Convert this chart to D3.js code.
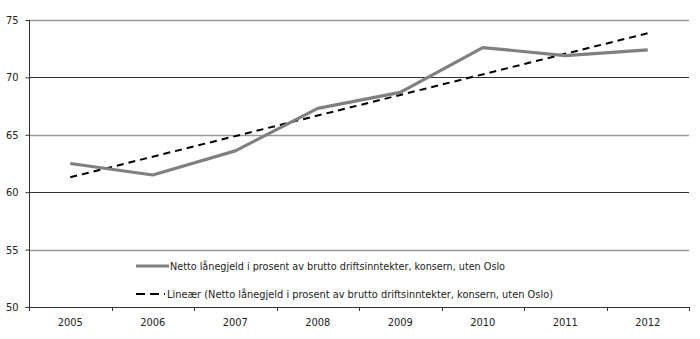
<!DOCTYPE html>
<html><head><meta charset="utf-8">
<script src="https://cdn.jsdelivr.net/npm/d3@7"></script>
<style>
body{margin:0;background:#fff;}
text{font-family:"Liberation Sans Narrow","DejaVu Sans Condensed","Liberation Sans",Arial,sans-serif;fill:#222;}
</style></head>
<body><svg id="c" width="700" height="339"></svg>
<script>
const years = ["2005","2006","2007","2008","2009","2010","2011","2012"];
const values = [62.5, 61.5, 63.6, 67.3, 68.7, 72.6, 71.9, 72.4];
const trendEnds = [61.3, 73.85];
const yTicks = [50, 55, 60, 65, 70, 75];
const seriesName = "Netto lånegjeld i prosent av brutto driftsinntekter, konsern, uten Oslo";
const trendName = "Lineær (Netto lånegjeld i prosent av brutto driftsinntekter, konsern, uten Oslo)";

const svg = d3.select("#c");
const L = 29, R = 689, T = 20, B = 307;
const x = d3.scaleBand().domain(years).range([L, R]);
const y = d3.scaleLinear().domain([50, 75]).range([B, T]);
const FONT = '"Liberation Sans Narrow","DejaVu Sans Condensed","Liberation Sans",Arial,sans-serif';

// gridlines
svg.append("g").selectAll("line").data(yTicks.filter(d => d > 50)).join("line")
  .attr("x1", L).attr("x2", R)
  .attr("y1", d => Math.round(y(d)) + 0.5).attr("y2", d => Math.round(y(d)) + 0.5)
  .attr("stroke", d => (d % 10 === 0) ? "#333" : "#999")
  .attr("stroke-width", d => (d % 10 === 0) ? 1 : 1.6);

// y axis
const ya = svg.append("g").attr("transform", `translate(${L + 0.5},0)`)
  .call(d3.axisLeft(y).tickValues(yTicks).tickSize(4).tickPadding(7));
ya.select(".domain").attr("stroke", "#333").attr("d", `M-4,${B + 0.5}H0V${T}`);
ya.selectAll(".tick line").attr("stroke", "#333");
ya.selectAll(".tick text").attr("font-size", 11).attr("fill", "#222").style("font-family", FONT);

// x axis
const xa = svg.append("g").attr("transform", `translate(0,${B + 0.5})`)
  .call(d3.axisBottom(x).tickSize(0).tickPadding(11));
xa.select(".domain").attr("stroke", "#333").attr("d", `M${L},0H${R}`);
xa.selectAll(".tick text").attr("font-size", 11).attr("fill", "#222").style("font-family", FONT);
const bounds = years.map(d => x(d)).concat([R]);
svg.append("g").selectAll("line").data(bounds).join("line")
  .attr("x1", d => Math.round(d) + 0.5).attr("x2", d => Math.round(d) + 0.5)
  .attr("y1", B).attr("y2", B + 4).attr("stroke", "#333");

const cx = d => x(d) + x.bandwidth() / 2;

// trend line
svg.append("line")
  .attr("x1", cx(years[0])).attr("y1", y(trendEnds[0]))
  .attr("x2", cx(years[years.length - 1])).attr("y2", y(trendEnds[1]))
  .attr("stroke", "#000").attr("stroke-width", 2).attr("stroke-dasharray", "7,5");

// data line
svg.append("path").datum(values)
  .attr("fill", "none").attr("stroke", "#808080").attr("stroke-width", 3.2)
  .attr("stroke-linejoin", "round")
  .attr("d", d3.line().x((d, i) => cx(years[i])).y(d => y(d)));

// legend
const lg = svg.append("g");
lg.append("line").attr("x1", 136).attr("x2", 169).attr("y1", 266).attr("y2", 266)
  .attr("stroke", "#808080").attr("stroke-width", 3.2);
lg.append("text").attr("x", 170).attr("y", 270).attr("font-size", 11)
  .attr("textLength", 335).attr("lengthAdjust", "spacingAndGlyphs").text(seriesName);
lg.append("line").attr("x1", 136).attr("x2", 165).attr("y1", 294).attr("y2", 294)
  .attr("stroke", "#000").attr("stroke-width", 2).attr("stroke-dasharray", "9,5");
lg.append("text").attr("x", 167).attr("y", 298).attr("font-size", 11)
  .attr("textLength", 386).attr("lengthAdjust", "spacingAndGlyphs").text(trendName);
</script></body></html>
